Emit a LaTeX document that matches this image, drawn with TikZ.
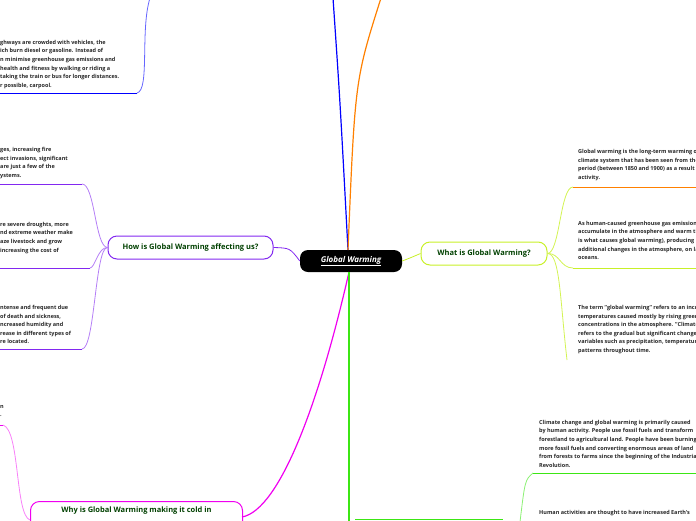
\documentclass[tikz,border=0pt]{standalone}
\usepackage{fontspec}
\setmainfont{Open Sans}
\definecolor{mag}{RGB}{240,0,240}
\definecolor{grn}{RGB}{60,230,20}
\definecolor{pur}{RGB}{130,40,240}
\definecolor{yl}{RGB}{200,240,40}
\begin{document}
\begin{tikzpicture}[x=1pt,y=-1pt,
  txt/.style={anchor=north west,inner sep=0,align=left,font=\bfseries\fontsize{5.5}{8.6}\selectfont,text=black!85},
  topic/.style={draw,rounded corners=9pt,line width=1pt,font=\bfseries\fontsize{7.5}{9}\selectfont,text=green!25!black,inner sep=0},
  br/.style={line width=0.8pt}]
\useasboundingbox (0,0) rectangle (696,520);
\clip (0,0) rectangle (696,520);
% centre
\node[fill=black,rounded corners=8pt,minimum width=102pt,minimum height=22pt,inner sep=0,text=white,font=\bfseries\itshape\fontsize{8}{9}\selectfont] (c) at (351,261) {\underline{Global Warming}};
\coordinate (ctop) at (348,250);
\coordinate (cbot) at (349,272);
% top branches
\coordinate (blueend) at (333,-2);
\coordinate (orangeend) at (381,-2);
\draw[blue,line width=1.2pt] (ctop) .. controls (340,100) .. (blueend);
\draw[orange,line width=1.2pt] (ctop) .. controls (355,80) .. (orangeend);
% blue sub-branch top-left
\coordinate (b1) at (150,-2);
\coordinate (b2) at (137,93);
\coordinate (b3) at (0,93);
\draw[blue!60!white,br] (b1) .. controls (140,30) and (150,90) .. (b2);
\draw[blue,br] (b2) -- (b3);
\node[txt] (t0) at (0,40) {ghways are crowded with vehicles, the\\ich burn diesel or gasoline. Instead of\\n minimise greenhouse gas emissions and\\health and fitness by walking or riding a\\ taking the train or bus for longer distances.\\r possible, carpool.};
% how affecting
\node[topic,draw=pur,minimum width=165pt,minimum height=23pt] (how) at (190.5,247.5) {How is Global Warming affecting us?};
\draw[pur,br] (how.east) .. controls (290,248) .. (c.west);
\coordinate (h1) at (82,184);
\coordinate (h2) at (90,268);
\coordinate (h3) at (82,349);
\draw[pur!60!white,br] (how.west) .. controls (95,247) and (95,184) .. (h1);
\draw[pur!60!white,br] (how.west) .. controls (98,247) and (95,268) .. (h2);
\draw[pur!60!white,br] (how.west) .. controls (95,247) and (95,349) .. (h3);
\draw[pur,br] (h1) -- (0,184);
\draw[pur,br] (h2) -- (0,268);
\draw[pur,br] (h3) -- (0,349);
\node[txt] (t1) at (0,147) {ges, increasing fire\\ect invasions, significant\\ are just a few of the\\ystems.};
\node[txt] (t2) at (0,222) {re severe droughts, more\\nd extreme weather make\\aze livestock and grow\\increasing the cost of};
\node[txt] (t3) at (0,305) {ntense and frequent due\\ of death and sickness,\\ncreased humidity and\\rease in different types of\\re located.};
% why cold
\node[topic,draw=mag,anchor=north west,minimum width=212pt,minimum height=30pt,text depth=14pt] (why) at (30,501) {Why is Global Warming making it cold in};
\draw[mag,line width=1.2pt] (cbot) .. controls (320,400) and (280,510) .. (242,517);
\coordinate (w1) at (3,425);
\draw[mag!50!white,br] (30,520) .. controls (15,515) and (20,430) .. (w1);
\draw[mag,br] (w1) -- (0,425);
\node[txt] (tw) at (0,405) {n\\.};
% green bottom
\draw[grn,line width=1.2pt] (cbot) -- (349,522);
\draw[grn,br] (355,519) -- (503,519);
% what is
\node[topic,draw=yl,minimum width=126pt,minimum height=23pt] (what) at (484,253.5) {What is Global Warming?};
\draw[yl,br] (c.east) .. controls (410,258) .. (what.west);
\coordinate (y1) at (573,187);
\coordinate (y2) at (573,268);
\coordinate (y3) at (567,360);
\draw[yl!80!white,br] (what.east) .. controls (560,253) and (560,187) .. (y1);
\draw[yl!80!white,br] (what.east) .. controls (560,253) and (560,268) .. (y2);
\draw[yl!80!white,br] (what.east) .. controls (560,253) and (560,300) .. (y3);
\draw[orange,br] (y1) -- (696,187);
\draw[yl,br] (y2) -- (696,268);
\node[txt] (r1) at (578,149) {Global warming is the long-term warming of the\\climate system that has been seen from the pre-industrial\\period (between 1850 and 1900) as a result of human\\activity.};
\node[txt] (r2) at (578,221) {As human-caused greenhouse gas emissions\\accumulate in the atmosphere and warm the planet (this\\is what causes global warming), producing\\additional changes in the atmosphere, on land and in the\\oceans.};
\node[txt] (r3) at (578,305) {The term "global warming" refers to an increase in\\temperatures caused mostly by rising greenhouse gas\\concentrations in the atmosphere. "Climate change"\\refers to the gradual but significant changes in climate\\variables such as precipitation, temperature and wind\\patterns throughout time.};
% green bottom right
\coordinate (g1) at (533,473);
\draw[grn!60!white,br] (520,522) .. controls (525,480) .. (g1);
\draw[grn,br] (g1) -- (696,473);
\node[txt] (r4) at (539,420) {Climate change and global warming is primarily caused\\by human activity. People use fossil fuels and transform\\forestland to agricultural land. People have been burning\\more fossil fuels and converting enormous areas of land\\from forests to farms since the beginning of the Industrial\\Revolution.};
\node[txt] (r5) at (539,510) {Human activities are thought to have increased Earth's};
\end{tikzpicture}
\end{document}
